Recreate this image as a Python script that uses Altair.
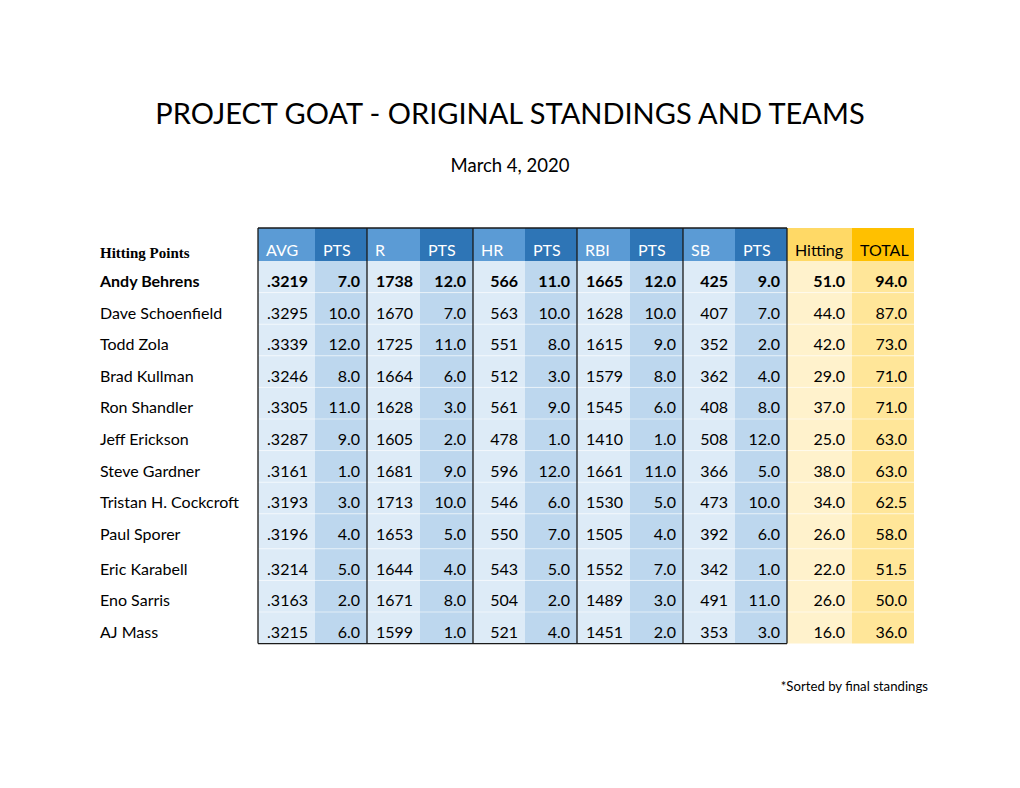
import altair as alt
import pandas as pd

# ---------------- data ----------------
teams = ["Andy Behrens", "Dave Schoenfield", "Todd Zola", "Brad Kullman", "Ron Shandler",
         "Jeff Erickson", "Steve Gardner", "Tristan H. Cockcroft", "Paul Sporer",
         "Eric Karabell", "Eno Sarris", "AJ Mass"]
avg = [0.3219, 0.3295, 0.3339, 0.3246, 0.3305, 0.3287, 0.3161, 0.3193, 0.3196, 0.3214, 0.3163, 0.3215]
avg_pts = [7, 10, 12, 8, 11, 9, 1, 3, 4, 5, 2, 6]
runs = [1738, 1670, 1725, 1664, 1628, 1605, 1681, 1713, 1653, 1644, 1671, 1599]
runs_pts = [12, 7, 11, 6, 3, 2, 9, 10, 5, 4, 8, 1]
hr = [566, 563, 551, 512, 561, 478, 596, 546, 550, 543, 504, 521]
hr_pts = [11, 10, 8, 3, 9, 1, 12, 6, 7, 5, 2, 4]
rbi = [1665, 1628, 1615, 1579, 1545, 1410, 1661, 1530, 1505, 1552, 1489, 1451]
rbi_pts = [12, 10, 9, 8, 6, 1, 11, 5, 4, 7, 3, 2]
sb = [425, 407, 352, 362, 408, 508, 366, 473, 392, 342, 491, 353]
sb_pts = [9, 7, 2, 4, 8, 12, 5, 10, 6, 1, 11, 3]
hitting = [51, 44, 42, 29, 37, 25, 38, 34, 26, 22, 26, 16]
total = [94, 87, 73, 71, 71, 63, 63, 62.5, 58, 51.5, 50, 36]

headers = ["AVG", "PTS", "R", "PTS", "HR", "PTS", "RBI", "PTS", "SB", "PTS", "Hitting", "TOTAL"]
title_text = "PROJECT GOAT - ORIGINAL STANDINGS AND TEAMS"
subtitle_text = "March 4, 2020"
corner_text = "Hitting Points"
note_text = "*Sorted by final standings"

# ---------------- layout (page pixels) ----------------
ORIGIN = 8
W, H = 1004, 772
col_widths = [57, 52, 53, 53, 52, 52, 53, 53, 52, 52, 65, 62]
row_heights = [31.6] * 8 + [35] + [31.6] * 3
table_left = 258
header_top, header_h = 228, 33
name_x = 100
page_center = 510
FONT = "Lato"
BODY_SIZE = 16

hdr_fill = ["#5B9BD5", "#2E75B6"] * 5 + ["#FFD966", "#FFC000"]
body_fill = ["#DDEBF7", "#BDD7EE"] * 5 + ["#FFF2CC", "#FFE699"]
hdr_color = ["white"] * 10 + ["black", "black"]

col_edges = [table_left]
for w in col_widths:
    col_edges.append(col_edges[-1] + w)
row_edges = [header_top + header_h]
for h in row_heights:
    row_edges.append(row_edges[-1] + h)


def fmt_avg(v):
    return ("%.4f" % v)[1:]


columns = [
    [fmt_avg(v) for v in avg],
    ["%.1f" % v for v in avg_pts],
    [str(v) for v in runs],
    ["%.1f" % v for v in runs_pts],
    [str(v) for v in hr],
    ["%.1f" % v for v in hr_pts],
    [str(v) for v in rbi],
    ["%.1f" % v for v in rbi_pts],
    [str(v) for v in sb],
    ["%.1f" % v for v in sb_pts],
    ["%.1f" % v for v in hitting],
    ["%.1f" % v for v in total],
]

# cells
cells = []
for c in range(len(headers)):
    cells.append(dict(x0=col_edges[c] - ORIGIN, x1=col_edges[c + 1] - ORIGIN,
                      y0=header_top - ORIGIN, y1=header_top + header_h - ORIGIN, fill=hdr_fill[c]))
    for r in range(len(teams)):
        cells.append(dict(x0=col_edges[c] - ORIGIN, x1=col_edges[c + 1] - ORIGIN,
                          y0=row_edges[r] - ORIGIN, y1=row_edges[r + 1] - ORIGIN, fill=body_fill[c]))
cells = pd.DataFrame(cells)

# faint row separators
grid = pd.DataFrame([dict(x0=col_edges[0] - ORIGIN, x1=col_edges[-1] - ORIGIN, y=row_edges[r] - ORIGIN)
                     for r in range(1, len(teams))])

# black borders (blue block only)
blue_end = col_edges[10]
borders = [dict(x0=table_left - ORIGIN, x1=blue_end - ORIGIN, y0=header_top - ORIGIN, y1=header_top - ORIGIN),
           dict(x0=table_left - ORIGIN, x1=blue_end - ORIGIN, y0=row_edges[-1] - ORIGIN, y1=row_edges[-1] - ORIGIN)]
for c in [0, 2, 4, 6, 8, 10]:
    xe = col_edges[c] - ORIGIN
    borders.append(dict(x0=xe, x1=xe, y0=header_top - ORIGIN, y1=row_edges[-1] - ORIGIN))
borders = pd.DataFrame(borders)

# header texts
hdr_txt = pd.DataFrame([dict(x=col_edges[c] + 8 - ORIGIN, y=header_top + 23 - ORIGIN,
                             label=headers[c], color=hdr_color[c]) for c in range(len(headers))])

# body numbers
nums = []
for c in range(len(headers)):
    for r in range(len(teams)):
        nums.append(dict(x=col_edges[c + 1] - 7 - ORIGIN, y=row_edges[r] + 21 - ORIGIN,
                         label=columns[c][r], bold=(r == 0)))
nums = pd.DataFrame(nums)

names = pd.DataFrame([dict(x=name_x - ORIGIN, y=row_edges[r] + 21 - ORIGIN, label=teams[r], bold=(r == 0))
                      for r in range(len(teams))])

xs = alt.Scale(domain=[0, W], nice=False, zero=False)
ys = alt.Scale(domain=[0, H], nice=False, zero=False, reverse=True)


def X(f="x"):
    return alt.X(f"{f}:Q", scale=xs, axis=None)


def Y(f="y"):
    return alt.Y(f"{f}:Q", scale=ys, axis=None)


rects = alt.Chart(cells).mark_rect(strokeWidth=0).encode(
    x=X("x0"), x2="x1", y=Y("y0"), y2="y1", color=alt.Color("fill:N", scale=None))

grid_l = alt.Chart(grid).mark_rule(color="white", strokeWidth=1, opacity=0.55).encode(
    x=X("x0"), x2="x1", y=Y("y"))

border_l = alt.Chart(borders).mark_rule(color="#1a1a1a", strokeWidth=1.3).encode(
    x=X("x0"), x2="x1", y=Y("y0"), y2="y1")

hdr_l = alt.Chart(hdr_txt).mark_text(align="left", baseline="middle", font=FONT, fontSize=BODY_SIZE).encode(
    x=X(), y=Y(), text="label:N", color=alt.Color("color:N", scale=None))

num_norm = alt.Chart(nums[~nums.bold]).mark_text(align="right", baseline="middle", font=FONT,
                                                 fontSize=BODY_SIZE, color="black").encode(
    x=X(), y=Y(), text="label:N")
num_bold = alt.Chart(nums[nums.bold]).mark_text(align="right", baseline="middle", font=FONT,
                                                fontSize=BODY_SIZE, fontWeight="bold", color="black").encode(
    x=X(), y=Y(), text="label:N")

name_norm = alt.Chart(names[~names.bold]).mark_text(align="left", baseline="middle", font=FONT,
                                                    fontSize=BODY_SIZE, color="black").encode(
    x=X(), y=Y(), text="label:N")
name_bold = alt.Chart(names[names.bold]).mark_text(align="left", baseline="middle", font=FONT,
                                                   fontSize=BODY_SIZE, fontWeight="bold", color="black").encode(
    x=X(), y=Y(), text="label:N")

texts = pd.DataFrame([
    dict(x=page_center - ORIGIN, y=115 - ORIGIN, label=title_text, kind="title"),
    dict(x=page_center - ORIGIN, y=166 - ORIGIN, label=subtitle_text, kind="sub"),
])
title_l = alt.Chart(texts[texts.kind == "title"]).mark_text(align="center", baseline="middle", font=FONT,
                                                            fontSize=29, color="black").encode(
    x=X(), y=Y(), text="label:N")
sub_l = alt.Chart(texts[texts.kind == "sub"]).mark_text(align="center", baseline="middle", font=FONT,
                                                        fontSize=18.5, color="black").encode(
    x=X(), y=Y(), text="label:N")

corner = pd.DataFrame([dict(x=name_x - ORIGIN, y=header_top + 25 - ORIGIN, label=corner_text)])
corner_l = alt.Chart(corner).mark_text(align="left", baseline="middle", font="Liberation Serif",
                                       fontSize=15, fontWeight="bold", color="black").encode(
    x=X(), y=Y(), text="label:N")

note = pd.DataFrame([dict(x=928 - ORIGIN, y=687 - ORIGIN, label=note_text)])
note_l = alt.Chart(note).mark_text(align="right", baseline="middle", font=FONT,
                                   fontSize=13.2, color="black").encode(
    x=X(), y=Y(), text="label:N")

chart = alt.layer(rects, grid_l, border_l, hdr_l, num_norm, num_bold, name_norm, name_bold,
                  title_l, sub_l, corner_l, note_l).properties(
    width=W, height=H, autosize=alt.AutoSizeParams(type="none"), padding=0,
    background="white").configure_view(stroke=None)

chart.save("out.html", embed_options={"renderer": "svg", "actions": False})
